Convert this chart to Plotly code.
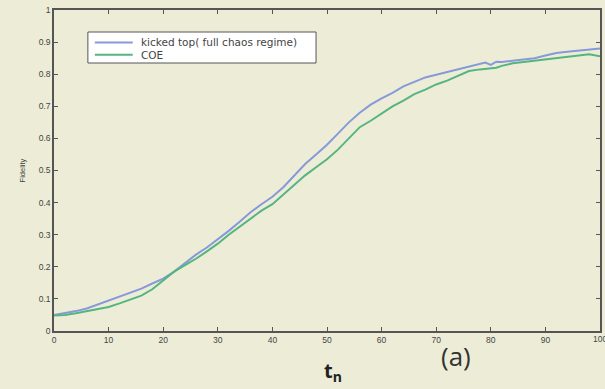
import plotly.graph_objects as go

t_vals = [0, 2, 4, 6, 8, 10, 12, 14, 16, 18, 20, 22, 24, 26, 28, 30, 32, 34, 36, 38,
          40, 42, 44, 46, 48, 50, 52, 54, 56, 58, 60, 62, 64, 66, 68, 70, 72, 74, 76, 78,
          79, 80, 81, 82, 84, 86, 88, 90, 92, 94, 96, 98, 100]

kicked_top = [0.050, 0.055, 0.062, 0.070, 0.082, 0.095, 0.106, 0.120, 0.132, 0.148,
              0.163, 0.185, 0.212, 0.238, 0.260, 0.285, 0.312, 0.340, 0.370, 0.395,
              0.418, 0.448, 0.485, 0.520, 0.550, 0.580, 0.615, 0.650, 0.680, 0.705,
              0.725, 0.742, 0.762, 0.777, 0.790, 0.798, 0.806, 0.815, 0.824, 0.832,
              0.836, 0.829, 0.839, 0.838, 0.842, 0.846, 0.850, 0.858, 0.866, 0.870,
              0.874, 0.877, 0.880]

coe = [0.048, 0.050, 0.055, 0.062, 0.068, 0.075, 0.086, 0.098, 0.110, 0.130,
       0.157, 0.185, 0.205, 0.225, 0.248, 0.272, 0.300, 0.325, 0.352, 0.375,
       0.395, 0.425, 0.455, 0.485, 0.510, 0.535, 0.565, 0.600, 0.635, 0.655,
       0.678, 0.700, 0.718, 0.738, 0.752, 0.768, 0.780, 0.796, 0.810, 0.815,
       0.816, 0.818, 0.820, 0.826, 0.834, 0.838, 0.842, 0.845, 0.848, 0.852,
       0.856, 0.862, 0.856]

series_names = ["kicked top( full chaos regime)", "COE"]
series_colors = ["#8799d8", "#55b47f"]

x_ticks = [0, 10, 20, 30, 40, 50, 60, 70, 80, 90, 100]
y_ticks = [0, 0.1, 0.2, 0.3, 0.4, 0.5, 0.6, 0.7, 0.8, 0.9, 1]
y_tick_text = ["0", "0.1", "0.2", "0.3", "0.4", "0.5", "0.6", "0.7", "0.8", "0.9", "1"]

BG = "rgb(237,237,215)"
AX = "#555555"
TICKFONT = dict(family="Liberation Sans, Arial", size=8.5, color="#444")

# plot area in pixels: left 54, right 602, top 10, bottom 331
L, R, T, B = 54, 602, 10, 331
def px(xp):
    return (xp - L) / (R - L)
def py(yp):
    return (B - yp) / (B - T)

fig = go.Figure()
for name, ys, col in zip(series_names, [kicked_top, coe], series_colors):
    fig.add_trace(go.Scatter(x=t_vals, y=ys, mode="lines", name=name,
                             line=dict(color=col, width=2), showlegend=False))

axis_common = dict(showgrid=False, zeroline=False, showline=True, linecolor=AX,
                   linewidth=1.5, mirror="ticks", ticks="inside", ticklen=4,
                   tickcolor=AX, tickwidth=1, tickfont=TICKFONT)

shapes = [
    # legend box
    dict(type="rect", xref="paper", yref="paper", x0=px(88), x1=px(317), y0=py(63), y1=py(32),
         fillcolor="white", line=dict(color=AX, width=1)),
]
annotations = []
for i, (name, col) in enumerate(zip(series_names, series_colors)):
    yy = 42.5 + i * 12.3
    shapes.append(dict(type="line", xref="paper", yref="paper", x0=px(95), x1=px(133),
                       y0=py(yy), y1=py(yy), line=dict(color=col, width=2)))
    annotations.append(dict(text=name, xref="paper", yref="paper", x=px(139), y=py(yy),
                            xanchor="left", yanchor="middle", showarrow=False,
                            font=dict(family="DejaVu Sans", size=10.5, color="#444")))

annotations += [
    dict(text="100", xref="x", yref="paper", x=100, y=py(339), xanchor="center", yanchor="middle",
         showarrow=False, font=TICKFONT),
    dict(text="<b>t</b><sub><b>n</b></sub>", xref="paper", yref="paper", x=px(334), y=py(372),
         xanchor="center", yanchor="middle", showarrow=False,
         font=dict(family="Open Sans, DejaVu Sans", size=20, color="#222")),
    dict(text="(a)", xref="paper", yref="paper", x=px(457), y=py(356),
         xanchor="center", yanchor="middle", showarrow=False,
         font=dict(family="Open Sans, DejaVu Sans", size=26, color="#333")),
]

fig.update_layout(
    width=605, height=389,
    margin=dict(l=L, r=605 - R, t=T, b=389 - B),
    paper_bgcolor=BG, plot_bgcolor=BG,
    xaxis=dict(range=[0, 100], tickvals=x_ticks[:-1], **axis_common),
    yaxis=dict(range=[0, 1], tickvals=y_ticks, ticktext=y_tick_text,
               title=dict(text="Fidelity", font=dict(family="Liberation Sans, Arial", size=7.5, color="#444"), standoff=12),
               **axis_common),
    showlegend=False,
    shapes=shapes,
    annotations=annotations,
)
fig.update_xaxes(tickvals=x_ticks, ticktext=[str(v) for v in x_ticks[:-1]] + [""])

fig.write_html("out.html")
